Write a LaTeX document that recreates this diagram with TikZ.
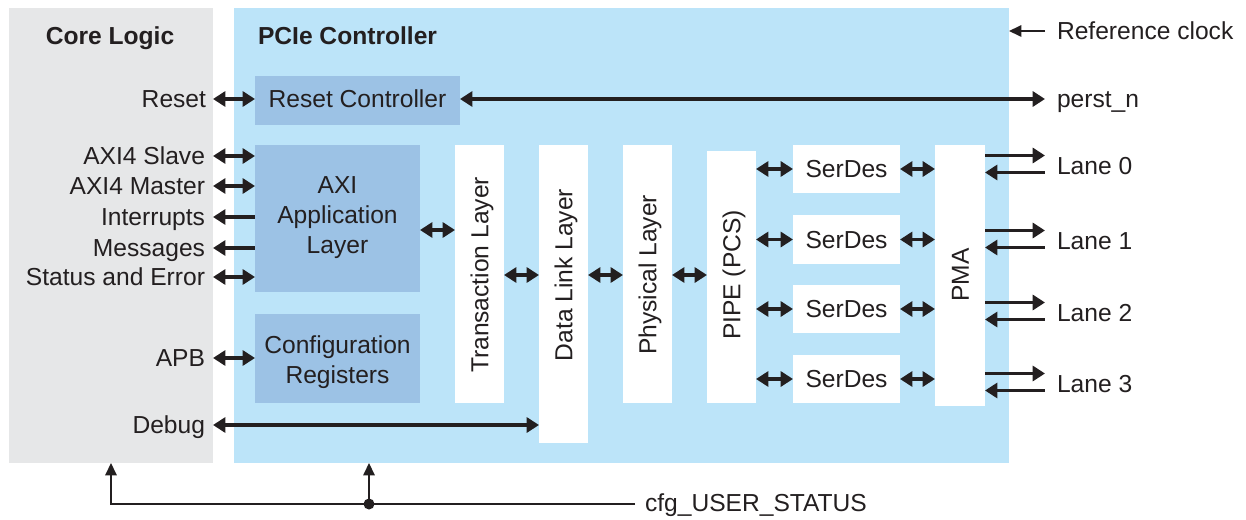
\documentclass[tikz,border=0pt]{standalone}
\usepackage{fontspec}
\setmainfont{Liberation Sans}
\usetikzlibrary{arrows.meta,calc,fit}
\definecolor{txt}{HTML}{231F20}
\definecolor{coregrey}{HTML}{E6E7E8}
\definecolor{pcieblue}{HTML}{BCE4F9}
\definecolor{midblue}{HTML}{9CC2E5}
\begin{document}
\begin{tikzpicture}[x=0.02cm,y=-0.02cm,
  font=\fontsize{14}{17}\selectfont, text=txt,
  area/.style={fill=#1, draw=none, inner sep=0, outer sep=0},
  lbl/.style={inner sep=0, outer sep=0, text height=10pt, text depth=0pt},
  ttl/.style={lbl, font=\fontsize{14}{17}\selectfont\bfseries},
  vlbl/.style={lbl, rotate=90},
  mlbl/.style={inner sep=0, outer sep=0, align=center},
  dbl/.style={{Triangle[length=7pt,width=8.5pt]}-{Triangle[length=7pt,width=8.5pt]}, line width=1.9pt, draw=txt},
  lft/.style={{Triangle[length=7pt,width=8.5pt]}-, line width=1.9pt, draw=txt},
  rgt/.style={-{Triangle[length=7pt,width=8.5pt]}, line width=1.9pt, draw=txt},
  thinarr/.style={-{Triangle[length=7pt,width=6.5pt]}, line width=0.8pt, draw=txt},
  thinline/.style={line width=0.8pt, draw=txt}]
\useasboundingbox (0,0) rectangle (1246,520);

% areas
\node[area=coregrey, fit={(9,8)(213,463)}] (core) {};
\node[area=pcieblue, fit={(234,8)(1009,463)}] (pcie) {};
\node[ttl] (coretitle) at (110,36) {Core Logic};
\node[ttl, anchor=west] (pcietitle) at (258,36) {PCIe Controller};

% left labels
\node[lbl, anchor=east] (reset) at (206,99) {Reset};
\node[lbl, anchor=east] (slave) at (205,156) {AXI4 Slave};
\node[lbl, anchor=east] (master) at (205,186) {AXI4 Master};
\node[lbl, anchor=east] (intr) at (205,217) {Interrupts};
\node[lbl, anchor=east] (msg) at (205,248) {Messages};
\node[lbl, anchor=east] (stat) at (205,277) {Status and Error};
\node[lbl, anchor=east] (apb) at (205,358) {APB};
\node[lbl, anchor=east] (debug) at (205,425) {Debug};

% blocks
\node[area=midblue, fit={(255,76)(460,125)}] (rc) {};
\node[lbl] (rctext) at (rc.center |- reset) {Reset Controller};
\node[area=midblue, fit={(255,145)(420,292)}] (axi) {};
\node[mlbl] (axitext) at (337.5,217.5) {AXI\\Application\\Layer};
\node[area=midblue, fit={(255,314)(420,403)}] (cfg) {};
\node[mlbl] (cfgtext) at (337.5,362) {Configuration\\Registers};

\node[area=white, fit={(455,145)(504,403)}] (tl) {};
\node[area=white, fit={(539,145)(588,443)}] (dll) {};
\node[area=white, fit={(623,145)(672,403)}] (phy) {};
\node[area=white, fit={(707,151)(756,403)}] (pipe) {};
\node[area=white, fit={(935,145)(985,406)}] (pma) {};
\node[vlbl] (tltext) at (479.5,275) {Transaction Layer};
\node[vlbl] (dlltext) at (563.5,275) {Data Link Layer};
\node[vlbl] (phytext) at (647.5,275) {Physical Layer};
\node[vlbl] (pipetext) at (731.5,275) {PIPE (PCS)};
\node[vlbl] (pmatext) at (960,275) {PMA};

\node[area=white, fit={(793,145)(900,193)}] (sd1) {};
\node[area=white, fit={(793,215)(900,264)}] (sd2) {};
\node[area=white, fit={(793,285)(900,333)}] (sd3) {};
\node[area=white, fit={(793,355)(900,403)}] (sd4) {};
\foreach \s in {sd1,sd2,sd3,sd4}{\node[lbl] at (\s.center) {SerDes};}

% right labels
\node[lbl, anchor=west] (refclk) at (1057,31) {Reference clock};
\node[lbl, anchor=west] (perst) at (1057,99) {perst\_n};
\node[lbl, anchor=west] (lane0) at (1057,165.5) {Lane 0};
\node[lbl, anchor=west] (lane1) at (1057,240.5) {Lane 1};
\node[lbl, anchor=west] (lane2) at (1057,312.5) {Lane 2};
\node[lbl, anchor=west] (lane3) at (1057,383.5) {Lane 3};
\node[lbl, anchor=west] (cfgst) at (645,503) {cfg\_USER\_STATUS};

% core <-> controller
\draw[dbl] (core.east |- reset) -- (rc.west |- reset);
\draw[dbl] (core.east |- slave) -- (axi.west |- slave);
\draw[dbl] (core.east |- master) -- (axi.west |- master);
\draw[lft] (core.east |- intr) -- (axi.west |- intr);
\draw[lft] (core.east |- msg) -- (axi.west |- msg);
\draw[dbl] (core.east |- stat) -- (axi.west |- stat);
\draw[dbl] (core.east |- apb) -- (cfg.west |- apb);
\draw[dbl] (core.east |- debug) -- (dll.west |- debug);
\draw[dbl] (rc.east |- reset) -- ($(perst.west)+(-12,0)$);

% layer chain
\draw[dbl] (axi.east |- 0,230) -- (tl.west |- 0,230);
\draw[dbl] (tl.east |- tltext) -- (dll.west |- tltext);
\draw[dbl] (dll.east |- tltext) -- (phy.west |- tltext);
\draw[dbl] (phy.east |- tltext) -- (pipe.west |- tltext);
\foreach \s in {sd1,sd2,sd3,sd4}{
  \draw[dbl] (pipe.east |- \s.west) -- (\s.west);
  \draw[dbl] (\s.east) -- (pma.west |- \s.east);
}

% lanes
\foreach \l in {lane0,lane1,lane2,lane3}{
  \draw[rgt] ($(pma.east |- \l.west)+(0,-10)$) -- ($(\l.west)+(-12,-10)$);
  \draw[lft] ($(pma.east |- \l.west)+(0,7)$) -- ($(\l.west)+(-12,7)$);
}

% reference clock
\draw[thinarr] ($(refclk.west)+(-12,0)$) -- (pcie.east |- refclk.west);

% cfg_USER_STATUS
\coordinate (dot) at (369,504);
\coordinate (cfgend) at ($(cfgst.west)+(-10,1)$);
\draw[thinarr] (cfgend) -| (core.south);
\draw[thinarr] (dot) -- (dot |- pcie.south);
\fill[txt] (dot) circle[radius=0.11cm];
\end{tikzpicture}
\end{document}
